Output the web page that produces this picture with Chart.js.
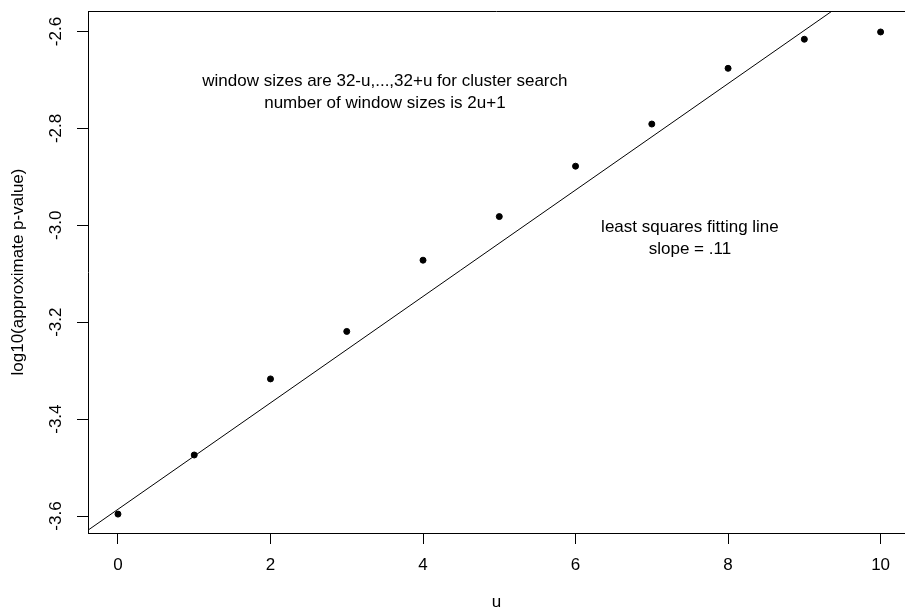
<!DOCTYPE html>
<html>
<head>
<meta charset="utf-8">
<script src="https://cdn.jsdelivr.net/npm/chart.js@4.4.1/dist/chart.umd.min.js"></script>
<style>
  body { margin: 0; background: #fff; }
  #wrap { width: 905px; height: 613px; }
</style>
</head>
<body>
<div id="wrap"><canvas id="plot"></canvas></div>
<script>
// data
const uValues = [0, 1, 2, 3, 4, 5, 6, 7, 8, 9, 10];
const logP = [-3.596, -3.474, -3.317, -3.219, -3.072, -2.982, -2.878, -2.791, -2.676, -2.616, -2.601];
// least squares line, endpoints (slope ~ .11)
const fitU = [-0.4, 10.4];
const fitP = [-3.630, -2.444];
const xTicks = [0, 2, 4, 6, 8, 10];
const yTicks = [-3.6, -3.4, -3.2, -3.0, -2.8, -2.6];

const font = { family: "'Liberation Sans', Arial, Helvetica, sans-serif", size: 17 };

// text labels inside the plot, centred on data coords
const notes = [
  { x: 3.5, y: -2.725, lines: ['window sizes are 32-u,...,32+u for cluster search', 'number of window sizes is 2u+1'] },
  { x: 7.5, y: -3.027, lines: ['least squares fitting line', 'slope = .11'] }
];

const boxAndText = {
  id: 'boxAndText',
  afterDraw(chart) {
    const c = chart.ctx, a = chart.chartArea;
    c.save();
    c.strokeStyle = '#000';
    c.lineWidth = 1;
    c.beginPath();
    c.moveTo(a.left, a.top + 0.5);
    c.lineTo(a.right, a.top + 0.5);
    c.stroke();
    c.fillStyle = '#000';
    c.font = font.size + 'px ' + font.family;
    c.textAlign = 'center';
    c.textBaseline = 'middle';
    notes.forEach(n => {
      const px = chart.scales.x.getPixelForValue(n.x);
      const py = chart.scales.y.getPixelForValue(n.y);
      const step = 22.5;
      n.lines.forEach((t, i) => {
        c.fillText(t, px, py + (i - (n.lines.length - 1) / 2) * step);
      });
    });
    c.restore();
  }
};

const noPad = s => { s.paddingLeft = 0; s.paddingRight = 0; s.paddingTop = 0; s.paddingBottom = 0; };

const ctx = document.getElementById('plot').getContext('2d');
new Chart(ctx, {
  type: 'scatter',
  data: {
    datasets: [
      {
        data: uValues.map((u, i) => ({ x: u, y: logP[i] })),
        backgroundColor: '#000',
        borderColor: '#000',
        pointRadius: 3,
        pointHoverRadius: 3
      },
      {
        data: fitU.map((u, i) => ({ x: u, y: fitP[i] })),
        showLine: true,
        borderColor: '#000',
        borderWidth: 1,
        pointRadius: 0,
        fill: false
      }
    ]
  },
  options: {
    responsive: true,
    maintainAspectRatio: false,
    animation: false,
    layout: { autoPadding: false, padding: { top: 11, right: 0, left: 0, bottom: 0 } },
    plugins: { legend: { display: false }, tooltip: { enabled: false } },
    scales: {
      x: {
        type: 'linear',
        min: -0.393,
        max: 10.32,
        afterBuildTicks: s => { s.ticks = xTicks.map(v => ({ value: v })); },
        afterFit: s => { s.height = 80; noPad(s); },
        grid: { drawOnChartArea: false, drawTicks: true, tickLength: 11, color: '#000' },
        border: { display: true, color: '#000', width: 1 },
        ticks: { color: '#000', font: font, padding: 11, maxRotation: 0, autoSkip: false,
                 callback: v => String(v) },
        title: { display: true, text: 'u', color: '#000', font: font, padding: { top: 0, bottom: 0 } }
      },
      y: {
        type: 'linear',
        min: -3.635,
        max: -2.5577,
        afterBuildTicks: s => { s.ticks = yTicks.map(v => ({ value: v })); },
        afterFit: s => { s.width = 88; noPad(s); },
        grid: { drawOnChartArea: false, drawTicks: true, tickLength: 11, color: '#000' },
        border: { display: true, color: '#000', width: 1 },
        ticks: { color: '#000', font: font, padding: 6, minRotation: 90, maxRotation: 90,
                 crossAlign: 'center', autoSkip: false, callback: v => v.toFixed(1) },
        title: { display: true, text: 'log10(approximate p-value)', color: '#000', font: font,
                 padding: { top: 8, bottom: 0 } }
      }
    }
  },
  plugins: [boxAndText]
});
</script>
</body>
</html>
